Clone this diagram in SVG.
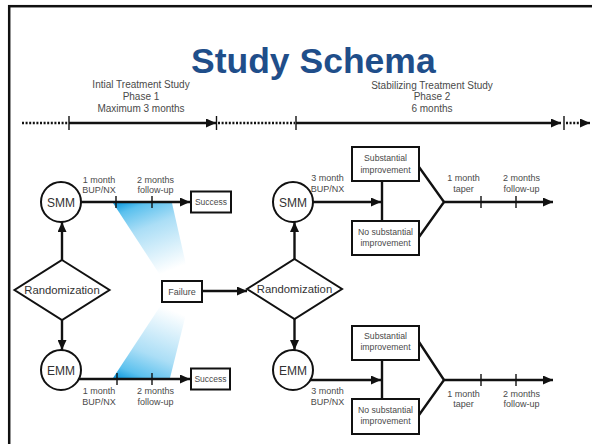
<svg xmlns="http://www.w3.org/2000/svg" width="592" height="444" viewBox="0 0 592 444">
<defs>
<style>
.ln{stroke:#111;stroke-width:2.4;fill:none}
.dot{stroke:#111;stroke-width:2.4;fill:none;stroke-dasharray:2 1.6}
.tk{stroke:#111;stroke-width:1.4}
.bx{fill:#fff;stroke:#111;stroke-width:2}
.sh{fill:#fff;stroke:#111;stroke-width:2}
.t{font-family:"Liberation Sans",Arial,sans-serif;fill:#4a4a4a;text-anchor:middle}
.s9{font-size:9px}
.s10{font-size:10px}
.sb{font-size:8.7px}
.rnd{font-size:11.3px;fill:#333}
.cir{font-size:12px;fill:#333}
</style>
<marker id="ah" markerUnits="userSpaceOnUse" markerWidth="10" markerHeight="9" refX="10" refY="4.5" orient="auto">
<path d="M0,0 L10,4.5 L0,9 z" fill="#111"/>
</marker>
<linearGradient id="gTop" x1="0.1" y1="0" x2="0.5" y2="1">
<stop offset="0" stop-color="#1a9fe0"/>
<stop offset="0.12" stop-color="#5cc1ee"/>
<stop offset="0.4" stop-color="#abdef6"/>
<stop offset="1" stop-color="#ffffff"/>
</linearGradient>
<linearGradient id="gBot" x1="0.1" y1="1" x2="0.5" y2="0">
<stop offset="0" stop-color="#1a9fe0"/>
<stop offset="0.12" stop-color="#5cc1ee"/>
<stop offset="0.4" stop-color="#abdef6"/>
<stop offset="1" stop-color="#ffffff"/>
</linearGradient>
</defs>
<rect x="0" y="0" width="592" height="444" fill="#fff"/>
<rect x="9.2" y="6.2" width="700" height="500" fill="none" stroke="#111" stroke-width="2.5"/>

<text x="191" y="72.5" style="font-family:'Liberation Sans',Arial,sans-serif;font-size:35.5px;font-weight:bold;fill:#1f4e8a">Study Schema</text>

<g id="phase1-label">
<text class="t s10" x="141" y="88">Intial Treatment Study</text>
<text class="t s10" x="141" y="100">Phase 1</text>
<text class="t s10" x="141" y="111.5">Maximum 3 months</text>
</g>
<g id="phase2-label">
<text class="t s10" x="432" y="88.5">Stabilizing Treatment Study</text>
<text class="t s10" x="432" y="100">Phase 2</text>
<text class="t s10" x="432" y="111.5">6 months</text>
</g>

<g id="beams">
<polygon points="113,203 172,203 189,278 162,278" fill="url(#gTop)"/>
<polygon points="113,378 170,378 189,302 163,302" fill="url(#gBot)"/>
</g>

<g id="connectors">
<line class="dot" x1="22" y1="123" x2="68" y2="123"/>
<line class="ln" x1="69" y1="123" x2="216" y2="123" marker-end="url(#ah)"/>
<line class="dot" x1="218" y1="123" x2="295" y2="123"/>
<line class="ln" x1="296" y1="123" x2="561" y2="123" marker-end="url(#ah)"/>
<line class="dot" x1="566" y1="123" x2="584" y2="123"/>
<line class="ln" x1="583" y1="123" x2="590" y2="123" marker-end="url(#ah)"/>
<line class="tk" x1="69" y1="116" x2="69" y2="130"/>
<line class="tk" x1="216.5" y1="116" x2="216.5" y2="130"/>
<line class="tk" x1="296" y1="116" x2="296" y2="130"/>
<line class="tk" x1="564" y1="116" x2="564" y2="130"/>

<line class="ln" x1="62" y1="260" x2="62" y2="222" marker-end="url(#ah)"/>
<line class="ln" x1="62" y1="320" x2="62" y2="350" marker-end="url(#ah)"/>
<line class="ln" x1="81" y1="202" x2="190" y2="202" marker-end="url(#ah)"/>
<line class="tk" x1="116" y1="196" x2="116" y2="208"/>
<line class="tk" x1="152" y1="196" x2="152" y2="208"/>
<line class="ln" x1="78" y1="379" x2="190" y2="379" marker-end="url(#ah)"/>
<line class="tk" x1="117" y1="373" x2="117" y2="385"/>
<line class="tk" x1="152" y1="373" x2="152" y2="385"/>
<line class="ln" x1="202" y1="291" x2="247" y2="291" marker-end="url(#ah)"/>

<line class="ln" x1="294.5" y1="259" x2="294.5" y2="222" marker-end="url(#ah)"/>
<line class="ln" x1="294.5" y1="319" x2="294.5" y2="350" marker-end="url(#ah)"/>
<line class="ln" x1="313" y1="202" x2="381" y2="202" marker-end="url(#ah)"/>
<line class="ln" x1="382" y1="181" x2="382" y2="221"/>
<polyline class="ln" points="419,167 444,202 419,237"/>
<line class="ln" x1="444" y1="202" x2="553" y2="202" marker-end="url(#ah)"/>
<line class="tk" x1="481" y1="196" x2="481" y2="208"/>
<line class="tk" x1="516" y1="196" x2="516" y2="208"/>
<line class="ln" x1="310" y1="380" x2="381" y2="380" marker-end="url(#ah)"/>
<line class="ln" x1="382" y1="360" x2="382" y2="399"/>
<polyline class="ln" points="419,342 444,380 419,415"/>
<line class="ln" x1="444" y1="380" x2="553" y2="380" marker-end="url(#ah)"/>
<line class="tk" x1="481" y1="374" x2="481" y2="386"/>
<line class="tk" x1="516" y1="374" x2="516" y2="386"/>
</g>

<g id="labels">
<text class="t s9" x="99" y="183">1 month</text>
<text class="t s9" x="99" y="193">BUP/NX</text>
<text class="t s9" x="155.5" y="183">2 months</text>
<text class="t s9" x="155.5" y="193">follow-up</text>
<text class="t s9" x="99" y="394">1 month</text>
<text class="t s9" x="99" y="405">BUP/NX</text>
<text class="t s9" x="155.5" y="394">2 months</text>
<text class="t s9" x="155.5" y="405">follow-up</text>
<text class="t s9" x="327.5" y="181">3 month</text>
<text class="t s9" x="327.5" y="192">BUP/NX</text>
<text class="t s9" x="463.5" y="181">1 month</text>
<text class="t s9" x="463.5" y="192">taper</text>
<text class="t s9" x="521.5" y="181">2 months</text>
<text class="t s9" x="521.5" y="192">follow-up</text>
<text class="t s9" x="327.5" y="394">3 month</text>
<text class="t s9" x="327.5" y="405">BUP/NX</text>
<text class="t s9" x="463.5" y="396.5">1 month</text>
<text class="t s9" x="463.5" y="407">taper</text>
<text class="t s9" x="521.5" y="396.5">2 months</text>
<text class="t s9" x="521.5" y="407">follow-up</text>
</g>

<g id="rand1">
<polygon class="sh" points="62,260 109.5,290 62,320 14.5,290"/>
<text class="t rnd" x="62" y="294">Randomization</text>
</g>
<g id="smm1">
<circle class="sh" cx="61" cy="202" r="20"/>
<text class="t cir" x="61" y="206.5">SMM</text>
</g>
<g id="emm1">
<circle class="sh" cx="61" cy="370" r="20"/>
<text class="t cir" x="61" y="374.5">EMM</text>
</g>
<g id="success1">
<rect class="bx" x="191" y="191.5" width="40" height="21"/>
<text class="t" style="font-size:8.5px" x="211" y="205">Success</text>
</g>
<g id="success2">
<rect class="bx" x="191" y="368.5" width="39" height="21"/>
<text class="t" style="font-size:8.5px" x="210.5" y="382">Success</text>
</g>
<g id="failure">
<rect class="bx" x="162" y="281" width="40" height="21"/>
<text class="t s9" x="182" y="294.5">Failure</text>
</g>
<g id="rand2">
<polygon class="sh" points="294.5,259 342,289 294.5,319 247,289"/>
<text class="t rnd" x="294.5" y="293">Randomization</text>
</g>
<g id="smm2">
<circle class="sh" cx="293" cy="202" r="20"/>
<text class="t cir" x="293" y="206.5">SMM</text>
</g>
<g id="emm2">
<circle class="sh" cx="293" cy="370" r="20"/>
<text class="t cir" x="293" y="374.5">EMM</text>
</g>
<g id="subst1">
<rect class="bx" x="352" y="147" width="67" height="34"/>
<text class="t sb" x="385.5" y="161">Substantial</text>
<text class="t sb" x="385.5" y="173">improvement</text>
</g>
<g id="nosubst1">
<rect class="bx" x="352" y="221" width="67" height="34"/>
<text class="t sb" x="385.5" y="235">No substantial</text>
<text class="t sb" x="385.5" y="246">improvement</text>
</g>
<g id="subst2">
<rect class="bx" x="352" y="326" width="67" height="34"/>
<text class="t sb" x="385.5" y="339">Substantial</text>
<text class="t sb" x="385.5" y="350">improvement</text>
</g>
<g id="nosubst2">
<rect class="bx" x="352" y="399" width="67" height="35"/>
<text class="t sb" x="385.5" y="412.5">No substantial</text>
<text class="t sb" x="385.5" y="423.5">improvement</text>
</g>
</svg>
